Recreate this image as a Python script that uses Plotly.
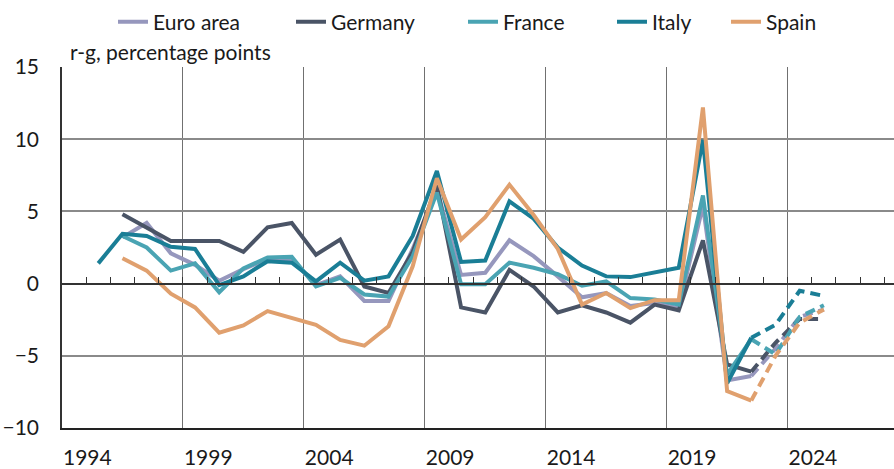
import plotly.graph_objects as go

years = list(range(1994, 2026))
proj_start = 2022

euro_area = [None, None, 3.2, 4.2, 2.1, 1.3, 0.2, 1.0, 1.7, 1.7, -0.1, 0.5, -1.2, -1.2, 2.4, 6.5,
             0.6, 0.75, 3.0, 1.9, 0.5, -0.95, -0.65, -1.55, -1.35, -1.7, 5.4, -6.7, -6.4, -4.5, -2.3, -1.8]
germany = [None, None, 4.8, 3.9, 2.95, 2.95, 2.95, 2.2, 3.9, 4.2, 2.0, 3.05, -0.2, -0.65, 2.2, 6.8,
           -1.65, -2.0, 0.95, -0.2, -2.0, -1.5, -2.0, -2.7, -1.45, -1.85, 3.0, -5.6, -6.1, -4.1, -2.45, -2.45]
france = [None, None, 3.3, 2.5, 0.9, 1.4, -0.6, 1.05, 1.8, 1.85, -0.2, 0.4, -0.75, -0.9, 1.9, 6.3,
          -0.05, -0.05, 1.45, 1.1, 0.65, -0.15, 0.15, -1.0, -1.1, -1.45, 6.1, -6.3, -3.85, -4.9, -2.3, -1.5]
italy = [None, 1.4, 3.45, 3.3, 2.55, 2.4, -0.1, 0.5, 1.55, 1.45, 0.15, 1.45, 0.2, 0.5, 3.3, 7.8,
         1.5, 1.6, 5.7, 4.5, 2.5, 1.25, 0.5, 0.45, 0.8, 1.1, 9.95, -6.9, -3.75, -2.85, -0.5, -0.85]
spain = [None, None, 1.75, 0.9, -0.7, -1.65, -3.4, -2.9, -1.9, -2.4, -2.85, -3.9, -4.3, -2.95, 1.2, 7.3,
         3.05, 4.6, 6.85, 4.75, 2.4, -1.45, -0.65, -1.7, -1.15, -1.15, 12.2, -7.45, -8.1, -5.0, -2.7, -1.8]

series = [
    ("Euro area", euro_area, "#9697BD"),
    ("Germany", germany, "#4A5466"),
    ("France", france, "#4AA4B3"),
    ("Italy", italy, "#1A7E96"),
    ("Spain", spain, "#E0A06E"),
]

tick_years = [1994, 1999, 2004, 2009, 2014, 2019, 2024]

FONT = "Lato"
TXT = "#1a1a1a"
FS = 21

W, H = 894, 469
ML, MR, MT, MB = 62, 0, 67, 41
PW = W - ML - MR
PH = H - MT - MB

# legend entry start positions (pixels) of the reference, one legend per series
legend_px = [123, 301, 473, 622, 736]
legend_names = ["legend", "legend2", "legend3", "legend4", "legend5"]

fig = go.Figure()

for (name, vals, color), lg in zip(series, legend_names):
    xs = [y + 0.5 for y in years]
    solid_x = [x for x, y in zip(xs, years) if y <= proj_start]
    solid_y = [v for v, y in zip(vals, years) if y <= proj_start]
    dash_x = [x for x, y in zip(xs, years) if y >= proj_start]
    dash_y = [v for v, y in zip(vals, years) if y >= proj_start]
    fig.add_trace(go.Scatter(x=solid_x, y=solid_y, mode="lines", name=name,
                             line=dict(color=color, width=4), legendgroup=name,
                             legend=lg, connectgaps=False))
    fig.add_trace(go.Scatter(x=dash_x, y=dash_y, mode="lines", name=name,
                             line=dict(color=color, width=4, dash="10px,6px"),
                             legendgroup=name, legend=lg, showlegend=False))

# invisible helper trace for the zero-line axis with yearly ticks
fig.add_trace(go.Scatter(x=[1994], y=[0], xaxis="x2", mode="markers",
                         marker=dict(opacity=0), showlegend=False, hoverinfo="skip"))

legend_layout = {}
for lg, px in zip(legend_names, legend_px):
    legend_layout[lg] = dict(orientation="h", x=(px - 10 - ML) / PW, xanchor="left",
                             y=1 + (MT - 22) / PH, yanchor="middle",
                             font=dict(family=FONT, size=FS, color=TXT),
                             bgcolor="rgba(0,0,0,0)", itemwidth=30)

fig.update_layout(
    width=W, height=H,
    margin=dict(l=ML, r=MR, t=MT, b=MB, autoexpand=False),
    paper_bgcolor="white", plot_bgcolor="white",
    font=dict(family=FONT, size=FS, color=TXT),
    showlegend=True,
    xaxis=dict(range=[1994, 2028.4], tickvals=tick_years, ticktext=[str(t) for t in tick_years],
               showgrid=True, gridcolor="#707070", gridwidth=1.2,
               ticks="", showline=True, linecolor="#222222", linewidth=2,
               ticklabelposition="outside right", ticklabelstandoff=10,
               tickfont=dict(family=FONT, size=FS, color=TXT), zeroline=False, fixedrange=True),
    xaxis2=dict(range=[1994, 2028.4], overlaying="x", anchor="free", position=0.4, side="bottom",
                tick0=1994, dtick=1, ticks="inside", ticklen=6, tickwidth=1.2, tickcolor="#333333",
                showline=True, linecolor="#333333", linewidth=1.5, showticklabels=False,
                showgrid=False, zeroline=False),
    yaxis=dict(range=[-10, 15], tickvals=[-10, -5, 0, 5, 10, 15],
               showgrid=True, gridcolor="#8a8a8a", gridwidth=1.5,
               zeroline=False, showline=True, linecolor="#333333", linewidth=1.5,
               ticks="", ticklabelstandoff=17,
               tickfont=dict(family=FONT, size=FS, color=TXT)),
    annotations=[dict(text="r-g, percentage points", xref="paper", yref="paper",
                      x=0.007, y=1.0, xanchor="left", yanchor="bottom", yshift=1,
                      showarrow=False, font=dict(family=FONT, size=FS, color=TXT))],
    **legend_layout,
)

fig.write_html("out.html", config={"displayModeBar": False},
               post_script="document.body.style.margin='0';document.body.style.overflow='hidden';")
